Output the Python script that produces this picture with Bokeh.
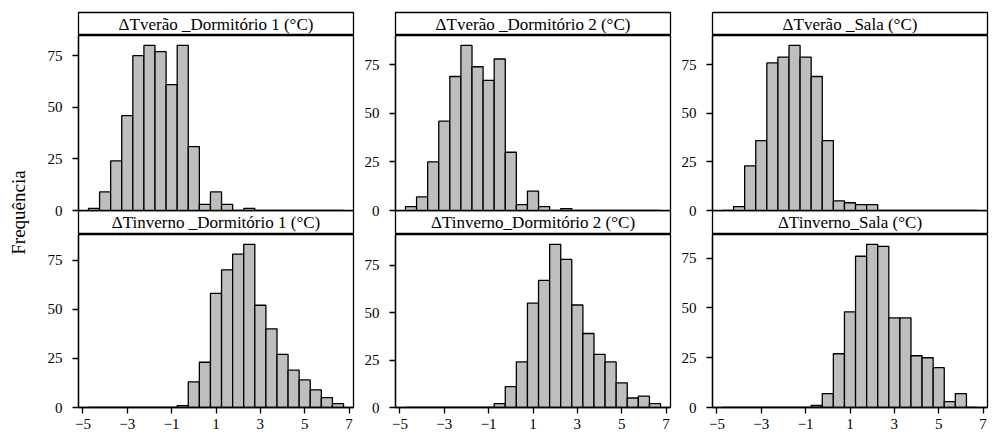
from bokeh.plotting import figure
from bokeh.layouts import row, column
from bokeh.models import Range1d, FixedTicker, Label, Title
from bokeh.embed import file_html
from bokeh.resources import INLINE

# ---- data ----
bin_centers = [-4.5, -4.0, -3.5, -3.0, -2.5, -2.0, -1.5, -1.0, -0.5, 0.0, 0.5,
               1.0, 1.5, 2.0, 2.5, 3.0, 3.5, 4.0, 4.5, 5.0, 5.5, 6.0, 6.5]
bin_width = 0.5

verao_dorm1 = [1, 9, 24, 46, 75, 80, 77, 61, 80, 31, 3, 9, 3, 0, 1, 0, 0, 0, 0, 0, 0, 0, 0]
verao_dorm2 = [2, 7, 25, 46, 69, 85, 74, 67, 78, 30, 3, 10, 2, 0, 1, 0, 0, 0, 0, 0, 0, 0, 0]
verao_sala = [0, 2, 23, 36, 76, 79, 85, 79, 69, 36, 5, 4, 3, 3, 0, 0, 0, 0, 0, 0, 0, 0, 0]
inverno_dorm1 = [0, 0, 0, 0, 0, 0, 0, 0, 1, 13, 23, 58, 70, 78, 83, 52, 40, 27, 19, 14, 9, 5, 2]
inverno_dorm2 = [0, 0, 0, 0, 0, 0, 0, 0, 2, 11, 24, 55, 67, 86, 78, 54, 39, 28, 24, 13, 5, 6, 2]
inverno_sala = [0, 0, 0, 0, 0, 0, 0, 0, 1, 7, 27, 48, 76, 82, 81, 45, 45, 26, 25, 20, 3, 7, 0]

titles_top = ["\u0394Tver\u00e3o _Dormit\u00f3rio 1 (\u00b0C)",
              "\u0394Tver\u00e3o _Dormit\u00f3rio 2 (\u00b0C)",
              "\u0394Tver\u00e3o _Sala (\u00b0C)"]
titles_bot = ["\u0394Tinverno _Dormit\u00f3rio 1 (\u00b0C)",
              "\u0394Tinverno_Dormit\u00f3rio 2 (\u00b0C)",
              "\u0394Tinverno_Sala (\u00b0C)"]
y_ticks = [0, 25, 50, 75]
x_ticks = [-5, -3, -1, 1, 3, 5, 7]
y_label = "Frequ\u00eancia"

FONT = "Liberation Serif"
LW = 1.3
L, R, FW = 40, 2, 275
X_RANGE = (-5.2, 7.2)
OVER = 8      # bottom border of top panels, overlapped by the next strip
TOP_FH = 175  # frame heights
BOT_FH = 173
XAX_H = 29


def strip(text, top_border, overlap):
    s = figure(width=L + FW + R, height=top_border + (23 if top_border else 24),
               x_range=Range1d(0, 1), y_range=Range1d(0, 1),
               x_axis_location=None, y_axis_location=None,
               toolbar_location=None, output_backend="svg",
               min_border_left=L, min_border_right=R,
               min_border_top=top_border, min_border_bottom=0)
    s.grid.visible = False
    s.outline_line_color = "black"
    s.outline_line_width = LW
    if overlap:
        s.background_fill_color = None
        s.border_fill_color = None
        s.margin = (-OVER, 0, 0, 0)
    s.add_layout(Label(x=0.5, y=0.5, text=text, text_align="center",
                       text_baseline="middle", text_font=FONT,
                       text_font_size="17px", text_color="black"))
    return s


def panel(counts, with_xaxis):
    top = max(counts) * 1.06
    mb = XAX_H if with_xaxis else OVER
    h = (BOT_FH if with_xaxis else TOP_FH) + mb
    p = figure(width=L + FW + R, height=h,
               x_range=Range1d(*X_RANGE), y_range=Range1d(0, top),
               x_axis_location="below" if with_xaxis else None,
               toolbar_location=None, output_backend="svg",
               min_border_left=L, min_border_right=R,
               min_border_top=0, min_border_bottom=mb)
    p.grid.visible = False
    p.outline_line_color = "black"
    p.outline_line_width = LW
    p.vbar(x=bin_centers, top=counts, width=bin_width, bottom=0,
           fill_color="#BEBEBE", line_color="black", line_width=LW)
    ax = p.yaxis[0]
    ax.ticker = FixedTicker(ticks=y_ticks)
    ax.minor_tick_line_color = None
    ax.major_tick_in = 0
    ax.major_tick_out = 6
    ax.major_tick_line_width = LW
    ax.axis_line_width = LW
    ax.major_label_standoff = 10
    ax.major_label_text_font = FONT
    ax.major_label_text_font_size = "15px"
    ax.major_label_text_color = "black"
    if with_xaxis:
        xa = p.xaxis[0]
        xa.ticker = FixedTicker(ticks=x_ticks)
        xa.minor_tick_line_color = None
        xa.major_tick_in = 0
        xa.major_tick_out = 6
        xa.major_tick_line_width = LW
        xa.axis_line_width = LW
        xa.major_label_standoff = 5
        xa.major_label_text_font = FONT
        xa.major_label_text_font_size = "15px"
        xa.major_label_text_color = "black"
    return p


top_data = [verao_dorm1, verao_dorm2, verao_sala]
bot_data = [inverno_dorm1, inverno_dorm2, inverno_sala]

cols = []
for i in range(3):
    cols.append(column(strip(titles_top[i], 12, False), panel(top_data[i], False),
                       strip(titles_bot[i], 0, True), panel(bot_data[i], True)))

TOTAL_H = 35 + TOP_FH + 24 + BOT_FH + XAX_H
lab = figure(width=38, height=TOTAL_H, x_axis_location=None, y_axis_location=None,
             toolbar_location=None, output_backend="svg",
             min_border_left=0, min_border_right=0, min_border_top=0,
             min_border_bottom=TOTAL_H - 2 * 212, x_range=Range1d(0, 1), y_range=Range1d(0, 1))
lab.grid.visible = False
lab.outline_line_color = None
lab.add_layout(Title(text=y_label, align="center", text_font=FONT,
                     text_font_size="19px", text_font_style="normal",
                     text_color="black"), "left")

layout = row(lab, *cols)
open("out.html", "w").write(file_html(layout, INLINE))
